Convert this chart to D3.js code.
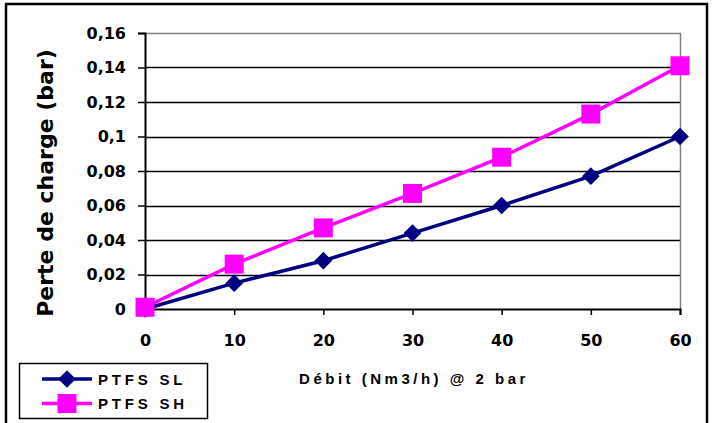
<!DOCTYPE html>
<html>
<head>
<meta charset="utf-8">
<script src="https://cdn.jsdelivr.net/npm/d3@7"></script>
<style>
body{margin:0;background:#fff;}
</style>
</head>
<body>
<svg id="chart" width="715" height="423"></svg>
<script>
// valeurs
var debits=[0,10,20,30,40,50,60];
var perteSL=[0,0.015,0.028,0.044,0.060,0.077,0.100];
var perteSH=[0.001,0.026,0.047,0.067,0.088,0.113,0.141];
var yTicks=[0,0.02,0.04,0.06,0.08,0.1,0.12,0.14,0.16];
var seriesNames=["PTFS SL","PTFS SH"];

var svg=d3.select("#chart");
var plotLeft=145,plotRight=680,plotTop=33,plotBottom=309;

var x=d3.scaleLinear().domain([0,60]).range([plotLeft,plotRight]);
var y=d3.scaleLinear().domain([0,0.16]).range([plotBottom,plotTop]);

//outer frame
svg.append("rect").attr("x",6).attr("y",4).attr("width",701).attr("height",430)
	.attr("fill","none").attr("stroke","#000").attr("stroke-width",2.5);

//gridlines
svg.append("g").selectAll("line").data(yTicks.slice(1,-1)).enter().append("line")
	.attr("x1",plotLeft).attr("x2",plotRight).attr("y1",function(d){return Math.round(y(d))+0.5}).attr("y2",function(d){return Math.round(y(d))+0.5})
	.attr("stroke","#000").attr("stroke-width",1.5);
//plot area border top/right
svg.append("path").attr("d","M"+plotLeft+","+(plotTop+0.5)+"H"+(plotRight+0.5)+"V"+plotBottom)
	.attr("fill","none").attr("stroke","#808080").attr("stroke-width",1.5);

var fmt=function(d){return String(+d.toFixed(2)).replace(".",",")};

var yAxis=svg.append("g").attr("transform","translate("+plotLeft+",0)")
	.call(d3.axisLeft(y).tickValues(yTicks).tickSize(7).tickPadding(12).tickFormat(fmt));
var xAxis=svg.append("g").attr("transform","translate(0,"+plotBottom+")")
	.call(d3.axisBottom(x).tickValues(debits).tickSize(6).tickPadding(20).tickFormat(d3.format("d")));
[yAxis,xAxis].forEach(function(g){
	g.select(".domain").attr("stroke","#000").attr("stroke-width",2);
	g.selectAll(".tick line").attr("stroke","#000").attr("stroke-width",1.5);
	g.selectAll("text").attr("font-family","'DejaVu Sans',Verdana,sans-serif").attr("font-weight","bold")
		.attr("font-size",16).attr("fill","#000");
});

//axis titles
svg.append("text").attr("transform","translate(53,183) rotate(-90)").attr("text-anchor","middle")
	.attr("font-family","'DejaVu Sans',Verdana,sans-serif").attr("font-weight","bold").attr("font-size",22)
	.text("Perte de charge (bar)");
svg.append("text").attr("x",414).attr("y",384).attr("text-anchor","middle")
	.attr("font-family","'Liberation Sans',Arial,sans-serif").attr("font-weight","bold").attr("font-size",15)
	.attr("letter-spacing",3.5).text("Débit (Nm3/h) @ 2 bar");

var line=d3.line().x(function(d,i){return x(debits[i])}).y(function(d){return y(d)});
var colors=["#000080","#ff00ff"];
var diamond=d3.symbol().type(d3.symbolDiamond2).size(200);

function drawMarker(g,i,cx,cy){
	if(i===0){
		g.append("path").attr("d",diamond()).attr("transform","translate("+cx+","+cy+")").attr("fill",colors[0]);
	}else{
		g.append("rect").attr("x",cx-9.5).attr("y",cy-9.5).attr("width",19).attr("height",19).attr("fill",colors[1]);
	}
}

[perteSL,perteSH].forEach(function(serie,i){
	var g=svg.append("g");
	g.append("path").datum(serie).attr("d",line).attr("fill","none").attr("stroke",colors[i]).attr("stroke-width",3.5);
	serie.forEach(function(v,j){drawMarker(g,i,x(debits[j]),y(v))});
});

//legend
svg.append("rect").attr("x",19.5).attr("y",363.5).attr("width",188).attr("height",55)
	.attr("fill","#fff").attr("stroke","#000").attr("stroke-width",1.5);
seriesNames.forEach(function(name,i){
	var ly=379+i*24.5;
	var g=svg.append("g");
	g.append("line").attr("x1",42).attr("x2",92).attr("y1",ly).attr("y2",ly).attr("stroke",colors[i]).attr("stroke-width",3.5);
	drawMarker(g,i,67,ly);
	g.append("text").attr("x",98).attr("y",ly+5.5).attr("font-family","'Liberation Sans',Arial,sans-serif")
		.attr("font-weight","bold").attr("font-size",15).attr("letter-spacing",3.8).text(name);
});
</script>
</body>
</html>
